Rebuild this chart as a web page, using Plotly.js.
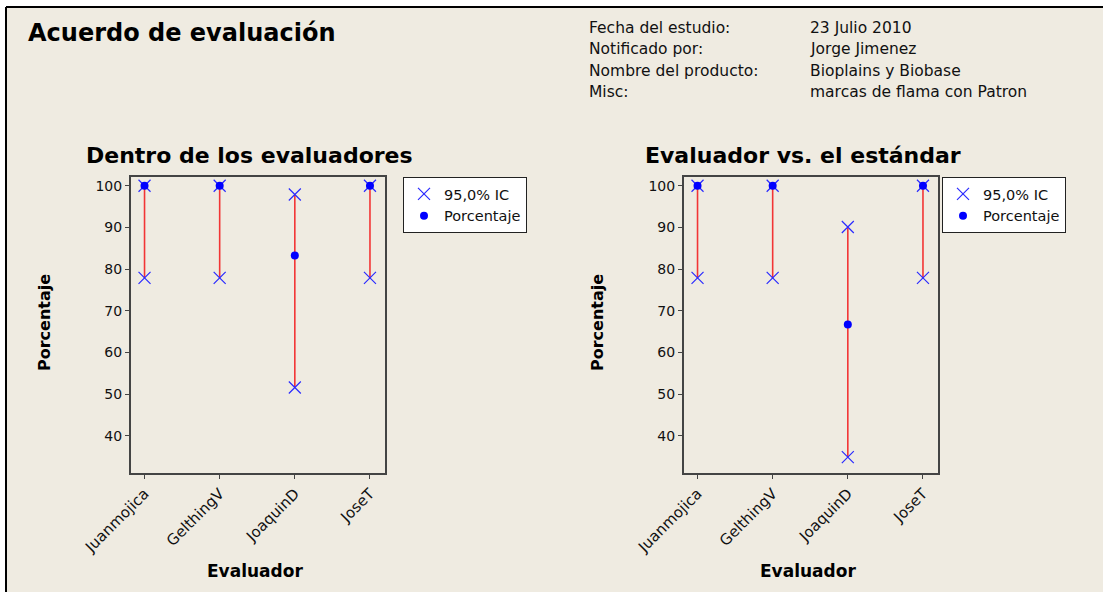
<!DOCTYPE html>
<html>
<head>
<meta charset="utf-8">
<script src="https://cdn.plot.ly/plotly-3.0.1.min.js"></script>
<style>html,body{margin:0;padding:0;background:#fff;}#chart{width:1103px;height:592px;}</style>
</head>
<body>
<div id="chart"></div>
<script>
// ---- data ----
const evaluadores = ['Juanmojica', 'GelthingV', 'JoaquinD', 'JoseT'];
const dentroPct = [100, 100, 83.3, 100];
const dentroLo = [77.9, 77.9, 51.6, 77.9];
const dentroHi = [100, 100, 97.9, 100];
const estandarPct = [100, 100, 66.7, 100];
const estandarLo = [77.9, 77.9, 34.9, 77.9];
const estandarHi = [100, 100, 90.1, 100];
const yTicks = [40, 50, 60, 70, 80, 90, 100];
const infoLabels = ['Fecha del estudio:', 'Notificado por:', 'Nombre del producto:', 'Misc:'];
const infoValues = ['23 Julio 2010', 'Jorge Jimenez', 'Bioplains y Biobase', 'marcas de flama con Patron'];
const mainTitle = 'Acuerdo de evaluación';
const panelTitles = ['Dentro de los evaluadores', 'Evaluador vs. el estándar'];
const legendNames = ['95,0% IC', 'Porcentaje'];
const xTitle = 'Evaluador';
const yTitle = 'Porcentaje';

// ---- helpers ----
const W = 1103, H = 592;
const px = v => v / W;
const py = v => 1 - v / H;
const FONT = 'DejaVu Sans, Verdana, sans-serif';
const BLUE = '#0000ff';
const RED = '#f23535';

function panelTraces(pct, lo, hi, xa, ya, leg) {
  const lx = [], ly = [];
  evaluadores.forEach((c, i) => { lx.push(c, c, null); ly.push(lo[i], hi[i], null); });
  const cx = [], cy = [];
  evaluadores.forEach((c, i) => { cx.push(c, c); cy.push(lo[i], hi[i]); });
  return [
    { type: 'scatter', mode: 'lines', x: lx, y: ly, xaxis: xa, yaxis: ya,
      line: { color: RED, width: 1.6 }, showlegend: false, hoverinfo: 'skip', legend: leg },
    { type: 'scatter', mode: 'markers', x: cx, y: cy, xaxis: xa, yaxis: ya, name: legendNames[0],
      marker: { symbol: 'x-thin-open', size: 12, color: '#2a2aff', line: { width: 1.2, color: '#2a2aff' } }, legend: leg },
    { type: 'scatter', mode: 'markers', x: evaluadores, y: pct, xaxis: xa, yaxis: ya, name: legendNames[1],
      marker: { symbol: 'circle', size: 8, color: BLUE }, legend: leg }
  ];
}

const data = [
  ...panelTraces(dentroPct, dentroLo, dentroHi, 'x', 'y', 'legend'),
  ...panelTraces(estandarPct, estandarLo, estandarHi, 'x2', 'y2', 'legend2')
];

const yDom = [py(473), py(177)];
function xAxis(dom) {
  return {
    domain: dom, type: 'category', categoryorder: 'array', categoryarray: evaluadores,
    range: [-0.18, 3.2], showline: true, mirror: true, linecolor: '#444', linewidth: 2,
    ticks: 'outside', ticklen: 4, tickcolor: '#444', tickangle: -45, showgrid: false, zeroline: false,
    tickfont: { family: FONT, size: 15, color: '#111' }, fixedrange: true
  };
}
function yAxis(anchor) {
  return {
    domain: yDom, anchor: anchor, range: [31.1, 102.1], tickvals: yTicks,
    showline: true, mirror: true, linecolor: '#444', linewidth: 2,
    ticks: 'outside', ticklen: 4, tickcolor: '#444', showgrid: false, zeroline: false,
    tickfont: { family: FONT, size: 14, color: '#111' }, fixedrange: true
  };
}

const ann = [];
ann.push({ text: '<b>' + mainTitle + '</b>', xref: 'paper', yref: 'paper', x: px(26), y: py(33),
  xanchor: 'left', yanchor: 'middle', showarrow: false, font: { family: FONT, size: 24, color: '#000' } });
infoLabels.forEach((t, i) => {
  ann.push({ text: t, xref: 'paper', yref: 'paper', x: px(587), y: py(28 + i * 21.3), xanchor: 'left', yanchor: 'middle',
    showarrow: false, font: { family: FONT, size: 15.5, color: '#111' } });
  ann.push({ text: infoValues[i], xref: 'paper', yref: 'paper', x: px(808), y: py(28 + i * 21.3), xanchor: 'left', yanchor: 'middle',
    showarrow: false, font: { family: FONT, size: 15.5, color: '#111' } });
});
[[84, panelTitles[0]], [643, panelTitles[1]]].forEach(([x, t]) => {
  ann.push({ text: '<b>' + t + '</b>', xref: 'paper', yref: 'paper', x: px(x), y: py(155), xanchor: 'left', yanchor: 'middle',
    showarrow: false, font: { family: FONT, size: 22, color: '#000' } });
});
[[44, 323], [597, 323]].forEach(([x, y]) => {
  ann.push({ text: '<b>' + yTitle + '</b>', xref: 'paper', yref: 'paper', x: px(x), y: py(y), xanchor: 'center', yanchor: 'middle',
    textangle: -90, showarrow: false, font: { family: FONT, size: 16, color: '#000' } });
});
[[255, 571], [808, 571]].forEach(([x, y]) => {
  ann.push({ text: '<b>' + xTitle + '</b>', xref: 'paper', yref: 'paper', x: px(x), y: py(y), xanchor: 'center', yanchor: 'middle',
    showarrow: false, font: { family: FONT, size: 17, color: '#000' } });
});

const legendStyle = (x) => ({
  x: px(x), y: py(177), xanchor: 'left', yanchor: 'top', bgcolor: '#fff', bordercolor: '#222', borderwidth: 1,
  font: { family: FONT, size: 14.5, color: '#111' }, tracegroupgap: 0, itemwidth: 30
});

const layout = {
  width: W, height: H, margin: { l: 0, r: 0, t: 0, b: 0 },
  paper_bgcolor: '#ffffff', plot_bgcolor: '#ffffff',
  showlegend: true,
  xaxis: xAxis([px(131), px(385)]), yaxis: yAxis('x'),
  xaxis2: xAxis([px(684), px(938)]), yaxis2: yAxis('x2'),
  legend: legendStyle(403), legend2: legendStyle(942),
  annotations: ann,
  shapes: [
    { type: 'rect', xref: 'paper', yref: 'paper', x0: px(6), x1: 1, y0: 0, y1: py(7),
      fillcolor: '#efebe1', line: { width: 0 }, layer: 'below' },
    { type: 'line', xref: 'paper', yref: 'paper', x0: px(6), x1: 1, y0: py(7), y1: py(7),
      line: { color: '#000', width: 2 }, layer: 'below' },
    { type: 'line', xref: 'paper', yref: 'paper', x0: px(6), x1: px(6), y0: 0, y1: py(7),
      line: { color: '#000', width: 2 }, layer: 'below' }
  ]
};

Plotly.newPlot('chart', data, layout, { displayModeBar: false, staticPlot: true });
</script>
</body>
</html>
